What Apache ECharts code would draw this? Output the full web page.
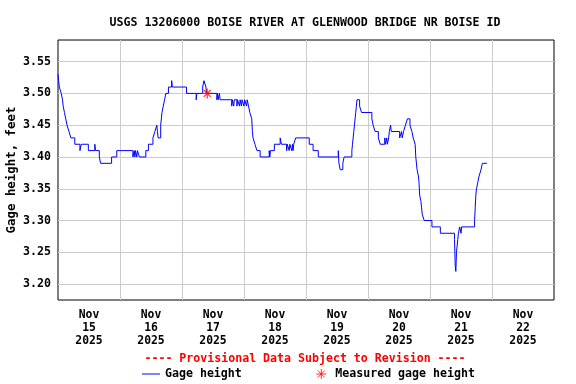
<!DOCTYPE html>
<html><head><meta charset="utf-8">
<script src="https://cdn.jsdelivr.net/npm/echarts@6/dist/echarts.min.js"></script>
<style>html,body{margin:0;padding:0;background:#fff}#c{width:576px;height:384px}</style>
</head><body><div id="c"></div>
<script>
const titleText = 'USGS 13206000 BOISE RIVER AT GLENWOOD BRIDGE NR BOISE ID';
const provisionalText = '---- Provisional Data Subject to Revision ----';
const yAxisName = 'Gage height, feet';
const seriesNames = ['Gage height', 'Measured gage height'];
const yTicks = [3.20, 3.25, 3.30, 3.35, 3.40, 3.45, 3.50, 3.55];
const xStart = '2025-11-15 00:00';
const xEnd = '2025-11-23 00:00';
const dayBoundaries = ['2025-11-16 00:00','2025-11-17 00:00','2025-11-18 00:00','2025-11-19 00:00','2025-11-20 00:00','2025-11-21 00:00','2025-11-22 00:00'];
const dayLabelTimes = ['2025-11-15 12:00','2025-11-16 12:00','2025-11-17 12:00','2025-11-18 12:00','2025-11-19 12:00','2025-11-20 12:00','2025-11-21 12:00','2025-11-22 12:00'];
const dayLabelTexts = ['Nov\n15\n2025','Nov\n16\n2025','Nov\n17\n2025','Nov\n18\n2025','Nov\n19\n2025','Nov\n20\n2025','Nov\n21\n2025','Nov\n22\n2025'];

const gageTimes = [
'11-15 00:00','11-15 00:15','11-15 00:30','11-15 01:15','11-15 01:45','11-15 02:00','11-15 02:30','11-15 03:00','11-15 03:30','11-15 04:15',
'11-15 05:00','11-15 06:30','11-15 08:30','11-15 09:00','11-15 11:45','11-15 14:15','11-15 14:30','11-15 16:00','11-15 16:30','11-15 20:45',
'11-15 22:45','11-16 05:00','11-16 05:30','11-16 05:45','11-16 06:00','11-16 06:30','11-16 06:45','11-16 07:30','11-16 10:00','11-16 11:00',
'11-16 12:45','11-16 13:30','11-16 14:15','11-16 14:30','11-16 14:45','11-16 15:45','11-16 16:00','11-16 16:15','11-16 16:45','11-16 17:15',
'11-16 17:45','11-16 18:45','11-16 20:00','11-16 20:15','11-17 01:45','11-17 05:30','11-17 05:45','11-17 08:00','11-17 08:30','11-17 09:15',
'11-17 09:30','11-17 13:30','11-17 13:45','11-17 14:00','11-17 14:30','11-17 14:45','11-17 19:15','11-17 19:30','11-17 20:00','11-17 20:15',
'11-17 21:15','11-17 21:30','11-17 22:15','11-17 22:30','11-17 23:00','11-17 23:15','11-18 00:00','11-18 00:15','11-18 01:00','11-18 01:15',
'11-18 01:45','11-18 02:15','11-18 03:00','11-18 03:15','11-18 03:30','11-18 04:15','11-18 05:00','11-18 06:15','11-18 09:45','11-18 10:00',
'11-18 10:15','11-18 11:45','11-18 14:00','11-18 14:30','11-18 16:30','11-18 16:45','11-18 17:30','11-18 17:45','11-18 18:30','11-18 18:45',
'11-18 19:00','11-18 19:15','11-18 20:00','11-19 01:15','11-19 02:45','11-19 04:45','11-19 12:30','11-19 12:45','11-19 13:15','11-19 14:15',
'11-19 14:45','11-19 17:45','11-19 18:00','11-19 18:15','11-19 18:30','11-19 18:45','11-19 19:00','11-19 19:15','11-19 19:30','11-19 19:45',
'11-19 20:45','11-19 21:30','11-20 01:30','11-20 02:00','11-20 02:45','11-20 04:00','11-20 04:45','11-20 06:30','11-20 06:45','11-20 07:15',
'11-20 07:30','11-20 08:00','11-20 08:15','11-20 08:45','11-20 09:00','11-20 12:15','11-20 13:00','11-20 13:15','11-20 13:45','11-20 14:30',
'11-20 15:15','11-20 16:15','11-20 17:00','11-20 17:30','11-20 18:15','11-20 18:30','11-20 19:00','11-20 19:30','11-20 19:45','11-20 20:00',
'11-20 20:30','11-20 20:45','11-20 21:00','11-20 21:45','11-21 00:45','11-21 04:00','11-21 09:30','11-21 09:45','11-21 10:00','11-21 10:15',
'11-21 10:30','11-21 10:45','11-21 11:00','11-21 11:30','11-21 12:00','11-21 12:15','11-21 17:15','11-21 17:30','11-21 17:45','11-21 18:00',
'11-21 18:30','11-21 19:00','11-21 19:45','11-21 20:15','11-21 22:00'
];
const gageValues = [
3.53,3.52,3.51,3.50,3.49,3.48,3.47,3.46,3.45,3.44,
3.43,3.42,3.41,3.42,3.41,3.42,3.41,3.40,3.39,3.40,
3.41,3.40,3.41,3.40,3.41,3.40,3.41,3.40,3.41,3.42,
3.43,3.44,3.45,3.44,3.43,3.45,3.46,3.47,3.48,3.49,
3.50,3.51,3.52,3.51,3.50,3.49,3.50,3.51,3.52,3.51,
3.50,3.49,3.50,3.49,3.50,3.49,3.48,3.49,3.48,3.49,
3.48,3.49,3.48,3.49,3.48,3.49,3.48,3.49,3.48,3.49,
3.48,3.47,3.46,3.44,3.43,3.42,3.41,3.40,3.41,3.40,
3.41,3.42,3.43,3.42,3.41,3.42,3.41,3.42,3.41,3.42,
3.41,3.42,3.43,3.42,3.41,3.40,3.41,3.39,3.38,3.39,
3.40,3.41,3.42,3.43,3.44,3.45,3.46,3.47,3.48,3.49,
3.48,3.47,3.46,3.45,3.44,3.43,3.42,3.43,3.42,3.43,
3.42,3.43,3.44,3.45,3.44,3.43,3.44,3.43,3.44,3.45,
3.46,3.45,3.44,3.43,3.42,3.40,3.38,3.37,3.36,3.34,
3.33,3.32,3.31,3.30,3.29,3.28,3.27,3.23,3.22,3.25,
3.26,3.27,3.28,3.29,3.28,3.29,3.30,3.32,3.34,3.35,
3.36,3.37,3.38,3.39,3.39
];
const measuredTimes = ['11-17 09:45'];
const measuredValues = [3.50];

function P(s) {
  const m = s.match(/(\d+)-(\d+)-(\d+) (\d+):(\d+)/);
  return Date.UTC(+m[1], +m[2] - 1, +m[3], +m[4], +m[5]);
}
const fullTime = s => P('2025-' + s);
const labelMap = {};
dayLabelTimes.forEach((t, i) => { labelMap[P(t)] = dayLabelTexts[i]; });

const font = 'DejaVu Sans Mono';
const asterisk = 'path://M0,5 L10,5 M5,0 L5,10 M1.5,1.5 L8.5,8.5 M1.5,8.5 L8.5,1.5';
const chart = echarts.init(document.getElementById('c'), null, {renderer: 'canvas'});
chart.setOption({
  animation: false,
  backgroundColor: '#fff',
  title: [
    {text: titleText, left: 300, top: 12, textAlign: 'center',
     textStyle: {fontFamily: font, fontSize: 11.6, fontWeight: 'bold', color: '#000'}},
    {text: provisionalText, left: 300, top: 348, textAlign: 'center',
     textStyle: {fontFamily: font, fontSize: 11.6, fontWeight: 'bold', color: '#ff0000'}}
  ],
  legend: {
    left: 137, top: 363, itemWidth: 18, itemHeight: 10, itemGap: 74,
    symbolKeepAspect: true,
    data: [
      {name: seriesNames[0], icon: 'path://M0,0 L18,0 L18,1 L0,1 Z', itemStyle: {color: '#0000ff'}},
      {name: seriesNames[1], icon: asterisk,
       itemStyle: {color: 'rgba(0,0,0,0)', borderColor: '#ff0000', borderWidth: 1}}
    ],
    textStyle: {fontFamily: font, fontSize: 11.6, fontWeight: 'bold', color: '#000'},
    selectedMode: false
  },
  grid: {left: 58, right: 22, top: 40, bottom: 84, show: true, borderColor: '#000', borderWidth: 1,
         backgroundColor: 'transparent', containLabel: false, outerBoundsMode: 'none'},
  xAxis: {
    type: 'value', min: P(xStart), max: P(xEnd),
    axisLine: {show: false},
    axisTick: {show: false, customValues: dayBoundaries.map(P)},
    splitLine: {show: true, lineStyle: {color: '#cccccc', width: 1}},
    axisLabel: {
      customValues: dayLabelTimes.map(P),
      formatter: v => labelMap[v] || '',
      fontFamily: font, fontSize: 11.4, fontWeight: 'bold', color: '#000',
      lineHeight: 13, margin: 9, hideOverlap: false
    }
  },
  yAxis: {
    type: 'value', min: 3.175, max: 3.584,
    name: yAxisName, nameLocation: 'middle', nameGap: 40, nameMoveOverlap: false,
    nameTextStyle: {fontFamily: font, fontSize: 12.4, fontWeight: 'bold', color: '#000'},
    axisLine: {show: false},
    axisTick: {show: false, customValues: yTicks},
    splitLine: {show: true, lineStyle: {color: '#cccccc', width: 1}},
    axisLabel: {
      customValues: yTicks,
      formatter: v => v.toFixed(2),
      fontFamily: font, fontSize: 11.6, fontWeight: 'bold', color: '#000', margin: 7
    }
  },
  series: [
    {name: seriesNames[0], type: 'line', step: 'end', symbol: 'none',
     lineStyle: {color: '#0000ff', width: 1}, itemStyle: {color: '#0000ff'},
     data: gageTimes.map((t, i) => [fullTime(t), gageValues[i]]), z: 3},
    {name: seriesNames[1], type: 'scatter', symbol: asterisk,
     symbolSize: 10, itemStyle: {color: 'rgba(0,0,0,0)', borderColor: '#ff0000', borderWidth: 1.3},
     data: measuredTimes.map((t, i) => [fullTime(t), measuredValues[i]]), z: 4}
  ]
});
</script></body></html>
